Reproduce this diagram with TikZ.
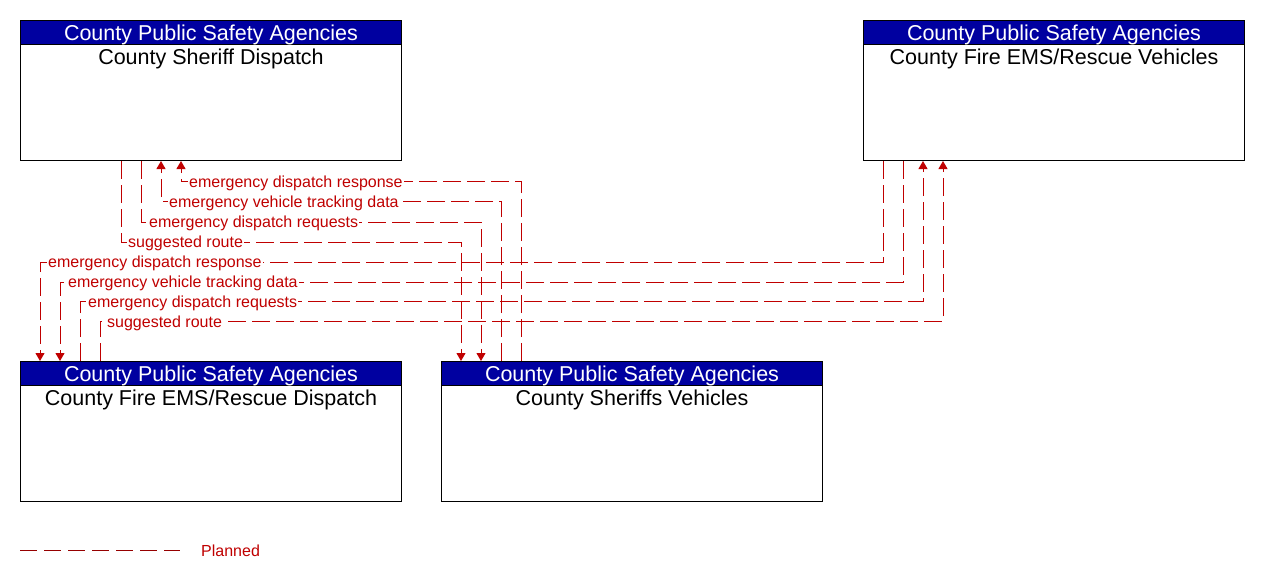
\documentclass[tikz,border=0pt]{standalone}
\usepackage{fontspec}
\setmainfont{Liberation Sans}
\usepackage{tikz}
\usetikzlibrary{arrows.meta, positioning, calc}
\definecolor{hdrBlue}{RGB}{0, 0, 160}
\definecolor{flowRed}{RGB}{192, 0, 0}
\definecolor{legRed}{RGB}{150, 0, 0}

\begin{document}
\begin{tikzpicture}[
    x=1pt, y=-1pt,
    ent/.style={
      rectangle, draw=black, fill=white, line width=1pt,
      minimum width=381pt, minimum height=140pt, inner sep=0pt
    },
    hdr/.style={
      rectangle, draw=black, fill=hdrBlue, text=white, line width=1pt,
      minimum width=381pt, minimum height=24pt, inner sep=0pt,
      text height=15.5pt, text depth=0pt,
      font=\fontsize{21.5}{24}\selectfont
    },
    ttl/.style={inner sep=0pt, font=\fontsize{21.5}{24}\selectfont},
    flow/.style={flowRed, line width=1pt, dash pattern=on 18pt off 6pt},
    tip/.style={-{Triangle[length=8pt, width=9pt]}},
    lbl/.style={text=flowRed, fill=white, inner sep=1pt,
      font=\fontsize{16}{18}\selectfont},
  ]
    \useasboundingbox (0,0) rectangle (1261,582);

    % Boxes
    \node[ent, anchor=north west] (sd) at (20,20) {};
    \node[hdr, anchor=north west] (sdh) at (sd.north west) {County Public Safety Agencies};
    \node[ttl, anchor=base] (sdt) at ($(sd.north)+(0,44)$) {County Sheriff Dispatch};

    \node[ent, anchor=north west] (fv) at (863,20) {};
    \node[hdr, anchor=north west] (fvh) at (fv.north west) {County Public Safety Agencies};
    \node[ttl, anchor=base] (fvt) at ($(fv.north)+(0,44)$) {County Fire EMS/Rescue Vehicles};

    \node[ent, anchor=north west] (fd) at (20,361) {};
    \node[hdr, anchor=north west] (fdh) at (fd.north west) {County Public Safety Agencies};
    \node[ttl, anchor=base] (fdt) at ($(fd.north)+(0,44)$) {County Fire EMS/Rescue Dispatch};

    \node[ent, anchor=north west] (sv) at (441,361) {};
    \node[hdr, anchor=north west] (svh) at (sv.north west) {County Public Safety Agencies};
    \node[ttl, anchor=base] (svt) at ($(sv.north)+(0,44)$) {County Sheriffs Vehicles};

    % Sheriff dispatch <-> sheriffs vehicles
    \draw[flow, tip] ($(sv.north west)+(80,0)$) -- ++(0,-180) -| ($(sd.south west)+(161,0)$);
    \draw[flow, tip] ($(sv.north west)+(60,0)$) -- ++(0,-160) -| ($(sd.south west)+(141,0)$);
    \draw[flow, tip] ($(sd.south west)+(121,0)$) -- ++(0,61) -| ($(sv.north west)+(40,0)$);
    \draw[flow, tip] ($(sd.south west)+(101,0)$) -- ++(0,81) -| ($(sv.north west)+(20,0)$);

    % Fire vehicles <-> fire dispatch
    \draw[flow, tip] ($(fv.south west)+(20,0)$) -- ++(0,101) -| ($(fd.north west)+(20,0)$);
    \draw[flow, tip] ($(fv.south west)+(40,0)$) -- ++(0,121) -| ($(fd.north west)+(40,0)$);
    \draw[flow, tip] ($(fd.north west)+(60,0)$) -- ++(0,-60) -| ($(fv.south west)+(60,0)$);
    \draw[flow, tip] ($(fd.north west)+(80,0)$) -- ++(0,-40) -| ($(fv.south west)+(80,0)$);

    % Flow labels
    \node[lbl, anchor=base west] (sdresp) at (188,187) {emergency dispatch response};
    \node[lbl, anchor=base west] (sdtrack) at (168,207) {emergency vehicle tracking data};
    \node[lbl, anchor=base west] (sdreq) at (148,227) {emergency dispatch requests};
    \node[lbl, anchor=base west] (sdroute) at (127,247) {suggested route};
    \node[lbl, anchor=base west] (fdresp) at (47,267) {emergency dispatch response};
    \node[lbl, anchor=base west] (fdtrack) at (67,287) {emergency vehicle tracking data};
    \node[lbl, anchor=base west] (fdreq) at (87,307) {emergency dispatch requests};
    \node[lbl, anchor=base west] (fdroute) at (106,327) {suggested route};

    % Legend
    \coordinate (lga) at (20,550);
    \coordinate (lgb) at (180,550);
    \draw[legRed, line width=1pt, dash pattern=on 17pt off 7pt] (lga) -- (lgb);
    \node[lbl, anchor=base west] (lgt) at (200,556) {Planned};
\end{tikzpicture}
\end{document}
